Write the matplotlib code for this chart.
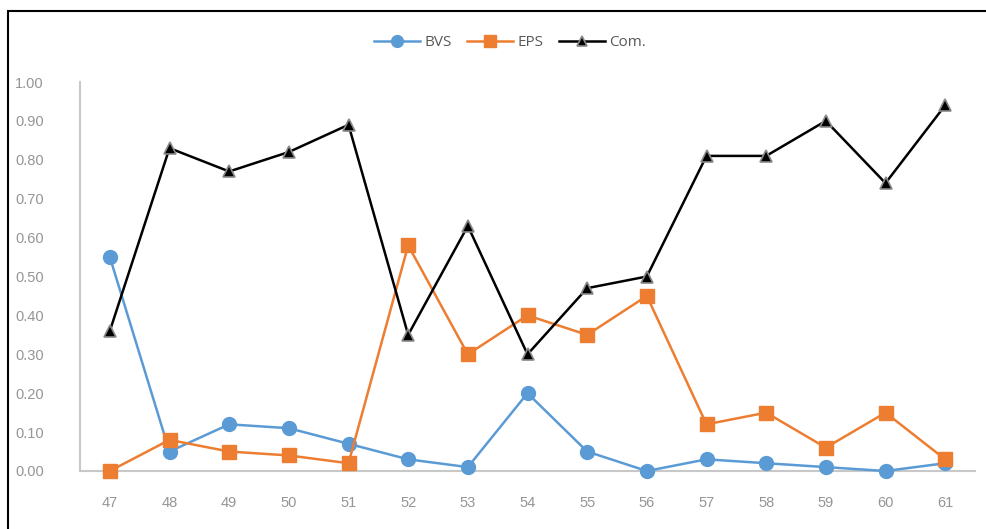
import matplotlib
matplotlib.use("Agg")
import matplotlib.pyplot as plt
from matplotlib.patches import Rectangle

# sample ids on the x axis
ids = [47, 48, 49, 50, 51, 52, 53, 54, 55, 56, 57, 58, 59, 60, 61]

bvs = [0.55, 0.05, 0.12, 0.11, 0.07, 0.03, 0.01, 0.20, 0.05, 0.00, 0.03, 0.02, 0.01, 0.00, 0.02]
eps = [0.00, 0.08, 0.05, 0.04, 0.02, 0.58, 0.30, 0.40, 0.35, 0.45, 0.12, 0.15, 0.06, 0.15, 0.03]
com = [0.36, 0.83, 0.77, 0.82, 0.89, 0.35, 0.63, 0.30, 0.47, 0.50, 0.81, 0.81, 0.90, 0.74, 0.94]

yticks = [i / 10 for i in range(11)]

grey_text = "#959595"
axis_grey = "#c8c8c8"

fig = plt.figure(figsize=(9.87, 5.29), dpi=100)
ax = fig.add_axes([80 / 987, 1 - 471 / 529, (975 - 80) / 987, (471 - 82) / 529])

ax.plot(ids, bvs, color="#5B9BD5", lw=1.8, marker="o", ms=10,
        markeredgecolor="#5B9BD5", label="BVS", clip_on=False, zorder=3)
ax.plot(ids, eps, color="#ED7D31", lw=1.8, marker="s", ms=10,
        markeredgecolor="#ED7D31", label="EPS", clip_on=False, zorder=3)
ax.plot(ids, com, color="black", lw=1.8, marker="^", ms=9,
        markerfacecolor="black", markeredgecolor="#8a8a8a", markeredgewidth=1.2,
        label="Com.", clip_on=False, zorder=4)

ax.set_xlim(46.5, 61.5)
ax.set_ylim(0, 1.0)
ax.set_xticks(ids)
ax.set_xticklabels([str(i) for i in ids])
ax.set_yticks(yticks)
ax.set_yticklabels([f"{v:.2f}" for v in yticks])

for side in ("top", "right"):
    ax.spines[side].set_visible(False)
for side in ("left", "bottom"):
    ax.spines[side].set_color(axis_grey)
    ax.spines[side].set_linewidth(1.5)

ax.tick_params(axis="both", length=0, labelsize=10.5, labelcolor=grey_text)
ax.tick_params(axis="y", pad=26)
ax.tick_params(axis="x", pad=18)
for lbl in ax.get_xticklabels() + ax.get_yticklabels():
    lbl.set_family("Liberation Sans")

leg = fig.legend(loc="center", bbox_to_anchor=(510 / 987, 1 - 43 / 529), ncol=3,
                 frameon=False, handlelength=3.0, columnspacing=1.0, handletextpad=0.3,
                 markerscale=0.85, prop={"family": "Open Sans", "size": 11})
for t in leg.get_texts():
    t.set_color("#595959")

# outer chart border (open to the right and bottom)
fig.patches.append(Rectangle((8 / 987, -0.2), 1.5, 1.2 - 11 / 529, transform=fig.transFigure,
                             fill=False, edgecolor="black", lw=1.5, clip_on=False))

fig.savefig("out.png", dpi=100)
